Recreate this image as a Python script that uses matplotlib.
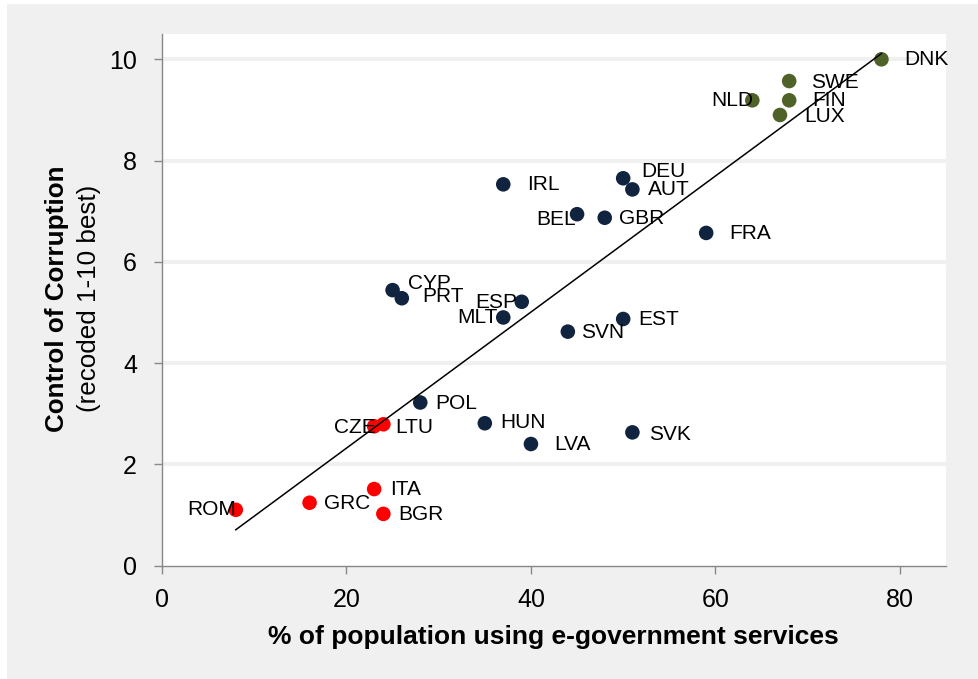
import matplotlib
matplotlib.use("Agg")
import matplotlib.pyplot as plt
from matplotlib.patches import Rectangle
import numpy as np

plt.rcParams['font.family'] = ['Liberation Sans', 'DejaVu Sans']

# ---- data ----
countries = ["DNK", "SWE", "FIN", "NLD", "LUX",
             "DEU", "AUT", "IRL", "BEL", "GBR", "FRA",
             "CYP", "PRT", "ESP", "MLT", "SVN", "EST",
             "POL", "HUN", "LVA", "SVK",
             "CZE", "LTU", "ITA", "GRC", "BGR", "ROM"]
egov = [78, 68, 68, 64, 67,
        50, 51, 37, 45, 48, 59,
        25, 26, 39, 37, 44, 50,
        28, 35, 40, 51,
        23, 24, 23, 16, 24, 8]
corruption = [10.0, 9.57, 9.19, 9.19, 8.90,
              7.65, 7.43, 7.53, 6.94, 6.87, 6.57,
              5.44, 5.28, 5.21, 4.90, 4.62, 4.87,
              3.22, 2.81, 2.40, 2.63,
              2.75, 2.79, 1.51, 1.24, 1.02, 1.10]
group = ["top"] * 5 + ["mid"] * 16 + ["low"] * 6

x_ticks = [0, 20, 40, 60, 80]
y_ticks = [0, 2, 4, 6, 8, 10]

# ---- style ----
group_colors = {"top": "#4f6228", "mid": "#10243f", "low": "#ff0000"}
# label offsets in pixels (dx, dy; dy positive = down), ha
label_pos = {
    "DNK": (23, 0, "left"), "SWE": (22, 1, "left"), "FIN": (23, 0, "left"),
    "NLD": (1, 0, "right"), "LUX": (24, 2, "left"),
    "DEU": (18, -7, "left"), "AUT": (16, 0, "left"), "IRL": (24, 0, "left"),
    "BEL": (-1, 5, "right"), "GBR": (14, 1, "left"), "FRA": (23, 1, "left"),
    "CYP": (15, -7, "left"), "PRT": (20, -2, "left"), "ESP": (-4, 1, "right"),
    "MLT": (-6, 0, "right"), "SVN": (13, 1, "left"), "EST": (15, 1, "left"),
    "POL": (15, 1, "left"), "HUN": (15, -1, "left"), "LVA": (23, 0, "left"),
    "SVK": (17, 2, "left"),
    "CZE": (2, 1, "right"), "LTU": (12, 3, "left"), "ITA": (16, 0, "left"),
    "GRC": (14, 1, "left"), "BGR": (15, 1, "left"), "ROM": (0, 0, "right"),
}

W, H = 979, 679
fig = plt.figure(figsize=(W / 100, H / 100), dpi=100, facecolor="white")
fig.patches.append(Rectangle((7 / W, 0), 1 - 7 / W, (H - 4) / H,
                             transform=fig.transFigure, facecolor="#f0f0f0",
                             edgecolor="none", zorder=-10))

ax = fig.add_axes([162 / W, (H - 565.5) / H, (946 - 162) / W, (565.5 - 34) / H])
ax.set_facecolor("white")
ax.set_xlim(0, 85)
ax.set_ylim(0, 10.5)
ax.set_xticks(x_ticks)
ax.set_yticks(y_ticks)
for yt in y_ticks[1:]:
    ax.axhline(yt, color="#f0f0f0", lw=2.9, zorder=0.5)

for s in ["top", "right"]:
    ax.spines[s].set_visible(False)
for s in ["left", "bottom"]:
    ax.spines[s].set_color("#888888")
    ax.spines[s].set_linewidth(1.0)
ax.tick_params(axis="both", direction="out", length=6, width=1.0,
               color="#888888", labelsize=18, labelcolor="black")
ax.tick_params(axis="y", pad=12)
ax.tick_params(axis="x", pad=10)

cols = [group_colors[g] for g in group]
ax.scatter(egov, corruption, s=110, c=cols, edgecolors="none", zorder=3)

# linear trend line
xa = np.array(egov, dtype=float)
ya = np.array(corruption, dtype=float)
slope, intercept = np.polyfit(xa, ya, 1)
xs = np.array([xa.min(), xa.max()])
ax.plot(xs, slope * xs + intercept, color="black", lw=1.1, zorder=4)

for c, xv, yv in zip(countries, egov, corruption):
    dx, dy, ha = label_pos[c]
    ax.annotate(c, (xv, yv), xytext=(dx * 0.72, -dy * 0.72),
                textcoords="offset points", ha=ha, va="center",
                fontsize=15, color="black", zorder=5)

fig.text(553 / W, 1 - 637 / H, "% of population using e-government services",
         ha="center", va="center", fontsize=19, fontweight="bold")
fig.text(57 / W, 1 - 299 / H, "Control of Corruption", rotation=90,
         ha="center", va="center", fontsize=18.7, fontweight="bold")
fig.text(89 / W, 1 - 298 / H, "(recoded 1-10 best)", rotation=90,
         ha="center", va="center", fontsize=18.7)

fig.savefig("out.png", dpi=100, facecolor=fig.get_facecolor())
